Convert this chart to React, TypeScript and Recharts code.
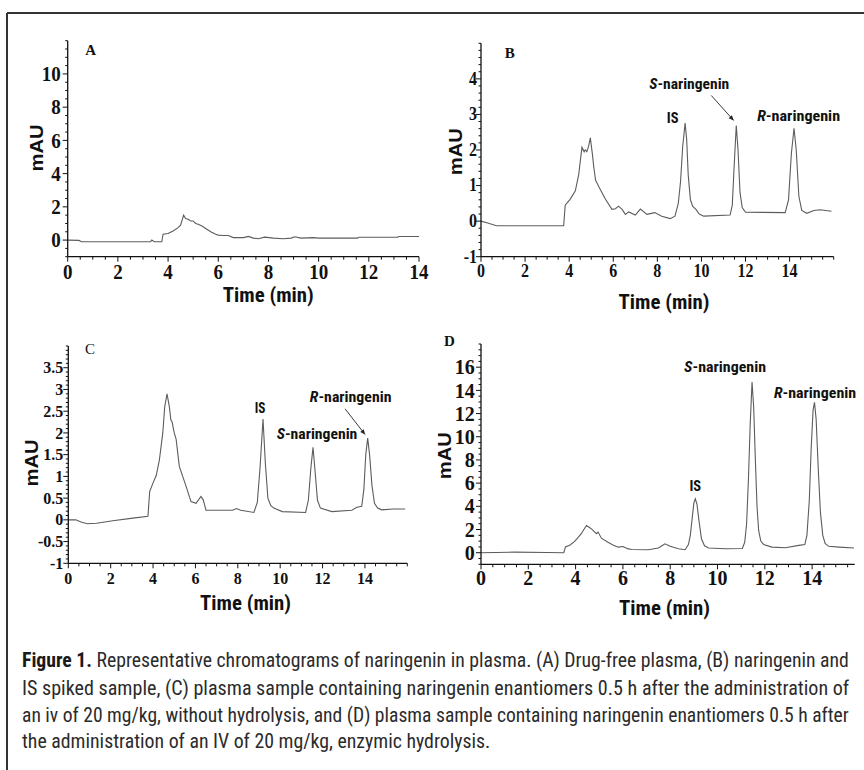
import React, { useLayoutEffect, useRef, useState } from 'react';
import { LineChart, Line, XAxis, YAxis, ReferenceDot } from 'recharts';

const SERIF = '"Liberation Serif","Times New Roman",serif';
const COND = '"Liberation Sans Narrow","Arial Narrow","Roboto Condensed","Liberation Sans",sans-serif';
const SANS = '"Liberation Sans",Arial,sans-serif';

// ---------- Panel A: drug-free plasma ----------
const timeA = [0, 0.45, 0.55, 3.3, 3.35, 3.45, 3.75, 3.8, 4.0, 4.2, 4.4, 4.5, 4.62, 4.7, 4.8, 4.9, 5.0, 5.1, 5.2, 5.35, 5.5, 5.7, 5.9, 6.0, 6.2, 6.4, 6.6, 7.0, 7.2, 7.4, 7.6, 7.85, 8.2, 8.6, 8.9, 9.05, 9.3, 9.8, 10.0, 11.55, 11.6, 13.15, 13.2, 14.0];
const mauA = [0, -0.02, -0.1, -0.1, 0.0, -0.1, -0.1, 0.35, 0.4, 0.55, 0.75, 0.9, 1.5, 1.3, 1.25, 1.15, 1.15, 1.0, 0.95, 0.85, 0.7, 0.5, 0.35, 0.3, 0.28, 0.28, 0.15, 0.15, 0.22, 0.12, 0.08, 0.18, 0.12, 0.08, 0.12, 0.2, 0.12, 0.15, 0.12, 0.12, 0.17, 0.18, 0.22, 0.22];
const xLabelsA = [0, 2, 4, 6, 8, 10, 12, 14];
const yLabelsA = [0, 2, 4, 6, 8, 10];

// ---------- Panel B: spiked sample ----------
const timeB = [0, 0.3, 0.7, 2.0, 3.75, 3.82, 4.05, 4.28, 4.43, 4.58, 4.68, 4.73, 4.8, 4.88, 4.96, 5.05, 5.12, 5.2, 5.4, 5.64, 5.94, 6.1, 6.24, 6.4, 6.55, 6.7, 7.0, 7.23, 7.53, 7.88, 8.2, 8.58, 8.8, 8.95, 9.05, 9.15, 9.26, 9.33, 9.4, 9.5, 9.6, 9.75, 9.9, 10.1, 11.3, 11.4, 11.48, 11.58, 11.66, 11.75, 11.85, 12.0, 13.8, 13.95, 14.08, 14.2, 14.3, 14.42, 14.55, 14.78, 15.1, 15.38, 15.9];
const mauB = [0, -0.05, -0.13, -0.13, -0.13, 0.45, 0.62, 0.85, 1.3, 2.08, 1.95, 2.0, 1.95, 2.1, 2.34, 1.9, 1.5, 1.15, 0.9, 0.62, 0.33, 0.35, 0.42, 0.33, 0.19, 0.26, 0.17, 0.34, 0.19, 0.24, 0.14, 0.07, 0.14, 0.5, 1.1, 2.1, 2.76, 2.3, 1.3, 0.6, 0.42, 0.33, 0.2, 0.14, 0.17, 0.45, 1.5, 2.69, 2.0, 0.8, 0.38, 0.25, 0.24, 0.6, 1.9, 2.61, 2.0, 0.7, 0.3, 0.22, 0.3, 0.32, 0.28];
const xLabelsB = [0, 2, 4, 6, 8, 10, 12, 14];
const yLabelsB = [-1, 0, 1, 2, 3, 4];
const peakTimesB = [9.26, 11.58, 14.2];
const peakHeightsB = [2.76, 2.69, 2.61];

// ---------- Panel C: without hydrolysis ----------
const timeC = [0, 0.35, 0.6, 0.9, 1.33, 2.1, 3.05, 3.76, 3.84, 4.0, 4.15, 4.3, 4.46, 4.55, 4.66, 4.77, 4.84, 4.9, 5.0, 5.09, 5.24, 5.56, 5.79, 6.03, 6.26, 6.37, 6.5, 7.75, 7.94, 8.14, 8.76, 8.92, 9.05, 9.19, 9.3, 9.42, 9.55, 9.7, 10.1, 11.2, 11.33, 11.45, 11.55, 11.65, 11.76, 11.9, 12.44, 13.38, 13.62, 13.85, 13.95, 14.04, 14.13, 14.22, 14.33, 14.45, 14.6, 14.79, 15.33, 15.9];
const mauC = [0, 0.0, -0.05, -0.09, -0.08, -0.02, 0.04, 0.08, 0.65, 0.85, 1.02, 1.38, 2.0, 2.6, 2.9, 2.6, 2.3, 2.25, 2.0, 1.85, 1.23, 0.77, 0.42, 0.38, 0.54, 0.46, 0.22, 0.22, 0.26, 0.22, 0.17, 0.4, 1.2, 2.32, 1.3, 0.5, 0.33, 0.27, 0.19, 0.17, 0.45, 1.2, 1.67, 1.1, 0.45, 0.27, 0.19, 0.22, 0.29, 0.31, 0.7, 1.5, 1.88, 1.5, 0.8, 0.38, 0.27, 0.23, 0.25, 0.25];
const xLabelsC = [0, 2, 4, 6, 8, 10, 12, 14];
const yLabelsC = [-1, -0.5, 0, 0.5, 1, 1.5, 2, 2.5, 3, 3.5];
const peakTimesC = [9.19, 11.55, 14.13];
const peakHeightsC = [2.32, 1.67, 1.88];

// ---------- Panel D: enzymic hydrolysis ----------
const timeD = [0, 1.4, 2.8, 3.5, 3.57, 3.75, 3.95, 4.1, 4.24, 4.35, 4.46, 4.57, 4.67, 4.8, 4.88, 4.95, 5.09, 5.37, 5.6, 5.8, 6.0, 6.2, 6.36, 7.07, 7.5, 7.65, 7.78, 8.0, 8.35, 8.63, 8.77, 8.85, 8.93, 9.0, 9.06, 9.13, 9.22, 9.32, 9.45, 9.62, 10.33, 11.05, 11.15, 11.23, 11.31, 11.38, 11.46, 11.53, 11.6, 11.67, 11.74, 11.83, 11.95, 12.3, 12.87, 13.44, 13.69, 13.78, 13.88, 13.96, 14.04, 14.1, 14.17, 14.26, 14.35, 14.45, 14.55, 14.7, 15.14, 15.77];
const mauD = [0, 0.05, 0.02, 0, 0.5, 0.65, 0.95, 1.3, 1.64, 2.0, 2.35, 2.2, 2.06, 1.8, 1.64, 1.78, 1.25, 0.91, 0.65, 0.48, 0.54, 0.35, 0.28, 0.26, 0.4, 0.6, 0.77, 0.55, 0.34, 0.26, 0.7, 1.5, 3.0, 4.3, 4.65, 4.2, 2.7, 1.2, 0.6, 0.4, 0.34, 0.36, 0.9, 2.5, 6.5, 11.0, 14.72, 12.5, 8.0, 4.0, 1.9, 1.0, 0.71, 0.48, 0.43, 0.63, 0.7, 1.5, 4.5, 9.0, 12.3, 12.97, 11.5, 7.2, 3.5, 1.5, 0.8, 0.55, 0.48, 0.4];
const xLabelsD = [0, 2, 4, 6, 8, 10, 12, 14];
const yLabelsD = [0, 2, 4, 6, 8, 10, 12, 14, 16];
const peakTimesD = [9.06, 11.46, 14.1];
const peakHeightsD = [4.65, 14.72, 12.97];

const peakNames = ['IS', 'S', 'R'];

// ---------- caption ----------
const captionLines = [
  'Representative chromatograms of naringenin in plasma. (A) Drug-free plasma, (B) naringenin and',
  'IS spiked sample, (C) plasma sample containing naringenin enantiomers 0.5 h after the administration of',
  'an iv of 20 mg/kg, without hydrolysis, and (D) plasma sample containing naringenin enantiomers 0.5 h after',
  'the administration of an IV of 20 mg/kg, enzymic hydrolysis.',
];

function steps(a: number, b: number, s: number) {
  const out: number[] = [];
  for (let i = 0; ; i++) {
    const v = +(a + i * s).toFixed(4);
    if (v > b + 1e-9) break;
    out.push(v);
  }
  return out;
}

const isIn = (arr: number[], v: number) => arr.some((m) => Math.abs(m - v) < 1e-6);

// Text that is horizontally scaled (after measuring) to reach a given width.
function FitText(props: any) {
  const { x, y, width, anchor = 'start', rotate = 0, children, ...rest } = props;
  const ref = useRef<SVGTextElement>(null);
  const [sx, setSx] = useState(1);
  useLayoutEffect(() => {
    if (ref.current) {
      const w = ref.current.getComputedTextLength();
      if (w > 0) setSx(width / w);
    }
  }, [width]);
  return (
    <text
      ref={ref}
      transform={`translate(${x},${y})${rotate ? ` rotate(${rotate})` : ''} scale(${sx},1)`}
      x={0}
      y={0}
      textAnchor={anchor}
      {...rest}
    >
      {children}
    </text>
  );
}

// Caption: justified lines are scaled to the column width, the last line keeps the mean scale.
function Caption() {
  const refs = useRef<(SVGTextElement | null)[]>([]);
  const [scales, setScales] = useState<number[]>([1, 1, 1, 1]);
  const x0 = 22;
  const colEnd = 849.5;
  const baselines = [667, 695, 722, 748];
  useLayoutEffect(() => {
    const ws = refs.current.map((r) => (r ? r.getComputedTextLength() : 0));
    if (ws.some((w) => w <= 0)) return;
    const s = ws.map((w) => (colEnd - x0) / w);
    const mean = (s[0] + s[1] + s[2]) / 3;
    setScales([s[0], s[1], s[2], mean]);
  }, []);
  return (
    <g>
      {captionLines.map((line, i) => (
        <text
          key={i}
          ref={(el) => {
            refs.current[i] = el;
          }}
          transform={`translate(${x0},${baselines[i]}) scale(${scales[i]},1)`}
          x={0}
          y={0}
          fontFamily={COND}
          fontSize={21}
          fill="#2b2b2b"
        >
          {i === 0 ? (
            <>
              <tspan fontWeight="bold" fill="#1a1a1a">Figure 1.</tspan>
              <tspan> {line}</tspan>
            </>
          ) : (
            line
          )}
        </text>
      ))}
    </g>
  );
}

function XTick(props: any) {
  const { x, y, payload, labels, fontSize, gap, stretch } = props;
  const v = payload.value;
  const major = isIn(labels, v);
  return (
    <g>
      <line x1={x} x2={x} y1={y} y2={y + (major ? 5 : 3)} stroke="#111" strokeWidth={1} />
      {major && (
        <text
          transform={`translate(${x},${y + gap}) scale(1,${stretch})`}
          textAnchor="middle"
          dominantBaseline="central"
          fontFamily={SERIF}
          fontWeight="bold"
          fontSize={fontSize}
          fill="#111"
        >
          {String(v)}
        </text>
      )}
    </g>
  );
}

function YTick(props: any) {
  const { x, y, payload, labels, fontSize, gap, stretch } = props;
  const v = payload.value;
  const major = isIn(labels, v);
  return (
    <g>
      <line x1={x} x2={x - (major ? 5 : 2.5)} y1={y} y2={y} stroke="#111" strokeWidth={1} />
      {major && (
        <text
          transform={`translate(${x - gap},${y}) scale(1,${stretch})`}
          textAnchor="end"
          dominantBaseline="central"
          fontFamily={SERIF}
          fontWeight="bold"
          fontSize={fontSize}
          fill="#111"
        >
          {String(v)}
        </text>
      )}
    </g>
  );
}

function PeakLabel(props: any) {
  const { cx, cy, name, dx, dy, w, arrow } = props;
  if (cx == null || cy == null) return <g />;
  let arrowEl = null;
  if (arrow) {
    const x1 = cx + arrow[0], y1 = cy + arrow[1], x2 = cx + arrow[2], y2 = cy + arrow[3];
    const a = Math.atan2(y2 - y1, x2 - x1);
    const L = 5, W = 2.2;
    const p1 = `${x2},${y2}`;
    const p2 = `${x2 - L * Math.cos(a) + W * Math.sin(a)},${y2 - L * Math.sin(a) - W * Math.cos(a)}`;
    const p3 = `${x2 - L * Math.cos(a) - W * Math.sin(a)},${y2 - L * Math.sin(a) + W * Math.cos(a)}`;
    arrowEl = (
      <g>
        <line x1={x1} y1={y1} x2={x2} y2={y2} stroke="#222" strokeWidth={0.9} />
        <polygon points={`${p1} ${p2} ${p3}`} fill="#222" />
      </g>
    );
  }
  return (
    <g>
      {arrowEl}
      <FitText
        x={cx + dx}
        y={cy + dy}
        width={w}
        anchor="middle"
        dominantBaseline="central"
        fontFamily={COND}
        fontWeight="bold"
        fontSize={14.5}
        fill="#111"
      >
        {name === 'IS' ? (
          'IS'
        ) : (
          <>
            <tspan fontStyle="italic">{name}</tspan>
            <tspan>-naringenin</tspan>
          </>
        )}
      </FitText>
    </g>
  );
}

type Ann = { dx: number; dy: number; w: number; arrow?: number[] };

type Cfg = {
  left: number; top: number; width: number; height: number;
  margin: { top: number; right: number; bottom: number; left: number };
  times: number[]; values: number[];
  xDomain: [number, number]; yDomain: [number, number];
  xMinor: number; yMinor: number;
  xLabels: number[]; yLabels: number[];
  fontSize: number; stretch: number; xGap: number; yGap: number;
  peakTimes?: number[]; peakHeights?: number[]; anns?: Ann[];
};

const cfgA: Cfg = {
  left: 0, top: 0, width: 432, height: 300,
  margin: { top: 40.7, right: 13, bottom: 23.3, left: 47.7 },
  times: timeA, values: mauA, xDomain: [0, 14], yDomain: [-1, 12], xMinor: 0.5, yMinor: 0.5,
  xLabels: xLabelsA, yLabels: yLabelsA, fontSize: 19, stretch: 1.1, xGap: 15, yGap: 7,
};
const cfgB: Cfg = {
  left: 432, top: 0, width: 432, height: 300,
  margin: { top: 43.3, right: 30.3, bottom: 23.3, left: 29 },
  times: timeB, values: mauB, xDomain: [0, 16], yDomain: [-1, 5], xMinor: 0.5, yMinor: 0.2,
  xLabels: xLabelsB, yLabels: yLabelsB, fontSize: 16, stretch: 1.15, xGap: 14, yGap: 4,
  peakTimes: peakTimesB, peakHeights: peakHeightsB,
  anns: [
    { dx: -12.5, dy: -4, w: 11.7 },
    { dx: -47, dy: -41, w: 80, arrow: [-25, -30, -2.6, -5] },
    { dx: 4.6, dy: -12, w: 83 },
  ],
};
const cfgC: Cfg = {
  left: 0, top: 320, width: 432, height: 300,
  margin: { top: 26, right: 24.7, bottom: 36.7, left: 48.3 },
  times: timeC, values: mauC, xDomain: [0, 16], yDomain: [-1, 4], xMinor: 0.5, yMinor: 0.1,
  xLabels: xLabelsC, yLabels: yLabelsC, fontSize: 16, stretch: 1.05, xGap: 15, yGap: 5,
  peakTimes: peakTimesC, peakHeights: peakHeightsC,
  anns: [
    { dx: -3, dy: -11, w: 10.7 },
    { dx: 4, dy: -13, w: 80.7 },
    { dx: -17, dy: -41, w: 81.7, arrow: [-22.6, -29.3, -2.6, -3.6] },
  ],
};
const cfgD: Cfg = {
  left: 432, top: 320, width: 432, height: 300,
  margin: { top: 24, right: 9.3, bottom: 35.7, left: 29 },
  times: timeD, values: mauD, xDomain: [0, 15.8], yDomain: [-1, 18], xMinor: 0.5, yMinor: 0.5,
  xLabels: xLabelsD, yLabels: yLabelsD, fontSize: 20, stretch: 1.05, xGap: 13.5, yGap: 6.3,
  peakTimes: peakTimesD, peakHeights: peakHeightsD,
  anns: [
    { dx: 0, dy: -12, w: 11.7 },
    { dx: -27, dy: -15, w: 82 },
    { dx: 0.5, dy: -9, w: 82.3 },
  ],
};

function Panel({ cfg }: { cfg: Cfg }) {
  const n = Math.min(cfg.times.length, cfg.values.length);
  const data = cfg.times.slice(0, n).map((t, i) => ({ t, v: cfg.values[i] }));
  const xTicks = steps(cfg.xDomain[0], cfg.xDomain[1], cfg.xMinor);
  const yTicks = steps(cfg.yDomain[0], cfg.yDomain[1], cfg.yMinor);
  return (
    <div style={{ position: 'absolute', left: cfg.left, top: cfg.top }}>
      <LineChart width={cfg.width} height={cfg.height} data={data} margin={cfg.margin}>
        <XAxis
          dataKey="t"
          type="number"
          domain={cfg.xDomain}
          ticks={xTicks}
          interval={0}
          allowDataOverflow
          height={20}
          tickSize={0}
          tickMargin={0}
          tickLine={false}
          axisLine={{ stroke: '#111', strokeWidth: 1.3 }}
          tick={(p: any) => (
            <XTick {...p} labels={cfg.xLabels} fontSize={cfg.fontSize} gap={cfg.xGap} stretch={cfg.stretch} />
          )}
        />
        <YAxis
          type="number"
          domain={cfg.yDomain}
          ticks={yTicks}
          interval={0}
          allowDataOverflow
          width={20}
          tickSize={0}
          tickMargin={0}
          tickLine={false}
          axisLine={{ stroke: '#111', strokeWidth: 1.3 }}
          tick={(p: any) => (
            <YTick {...p} labels={cfg.yLabels} fontSize={cfg.fontSize} gap={cfg.yGap} stretch={cfg.stretch} />
          )}
        />
        <Line
          dataKey="v"
          type="linear"
          stroke="#5c5c5c"
          strokeWidth={1.1}
          dot={false}
          activeDot={false}
          isAnimationActive={false}
        />
        {(cfg.peakTimes || []).map((pt, i) => {
          const ann = (cfg.anns || [])[i];
          return (
            <ReferenceDot
              key={i}
              x={pt}
              y={(cfg.peakHeights || [])[i]}
              r={0}
              ifOverflow="visible"
              shape={(p: any) => (
                <PeakLabel cx={p.cx} cy={p.cy} name={peakNames[i]} dx={ann.dx} dy={ann.dy} w={ann.w} arrow={ann.arrow} />
              )}
            />
          );
        })}
      </LineChart>
    </div>
  );
}

const axisTitles = [
  { x: 268.3, y: 302, mx: 36.7, my: 148, letter: 'A', lx: 90.7, ly: 50, lw: 'bold' },
  { x: 664, y: 309, mx: 456, my: 151.7, letter: 'B', lx: 509.7, ly: 53.3, lw: 'bold' },
  { x: 245.5, y: 610, mx: 32, my: 463, letter: 'C', lx: 90, ly: 349.3, lw: 'normal' },
  { x: 664.5, y: 615, mx: 444.5, my: 455.7, letter: 'D', lx: 449.3, ly: 340.7, lw: 'bold' },
];

export default function App() {
  return (
    <div style={{ position: 'absolute', left: 0, top: 0, width: 864, height: 770, background: '#fff', overflow: 'hidden' }}>
      <Panel cfg={cfgA} />
      <Panel cfg={cfgB} />
      <Panel cfg={cfgC} />
      <Panel cfg={cfgD} />
      <svg width={864} height={770} style={{ position: 'absolute', left: 0, top: 0, pointerEvents: 'none' }}>
        <line x1={7} y1={13} x2={864} y2={13} stroke="#333" strokeWidth={2} />
        <line x1={7} y1={13} x2={7} y2={770} stroke="#333" strokeWidth={2} />
        {axisTitles.map((a, i) => (
          <g key={i}>
            <FitText
              x={a.x}
              y={a.y}
              width={91}
              anchor="middle"
              fontFamily={COND}
              fontWeight="bold"
              fontSize={20}
              fill="#111"
            >
              Time (min)
            </FitText>
            <FitText
              x={a.mx}
              y={a.my}
              width={47}
              rotate={-90}
              anchor="middle"
              dominantBaseline="central"
              fontFamily={SANS}
              fontWeight="bold"
              fontSize={18}
              fill="#111"
            >
              mAU
            </FitText>
            <text
              x={a.lx}
              y={a.ly}
              textAnchor="middle"
              dominantBaseline="central"
              fontFamily={SERIF}
              fontWeight={a.lw}
              fontSize={15}
              fill="#111"
            >
              {a.letter}
            </text>
          </g>
        ))}
        <Caption />
      </svg>
    </div>
  );
}
